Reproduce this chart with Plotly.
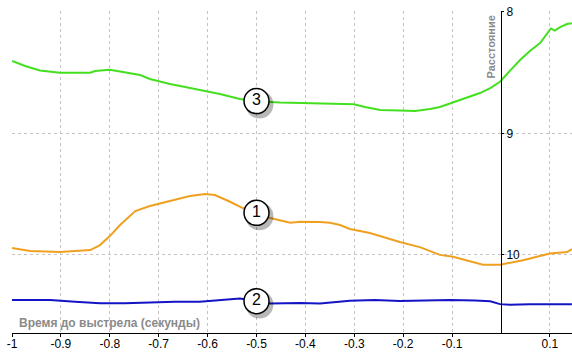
import numpy as np
import plotly.graph_objects as go

# Series 3 (green)
t3 = [-1.0, -0.973, -0.943, -0.902, -0.871, -0.840, -0.830, -0.800, -0.779, -0.759, -0.738, -0.718,
      -0.697, -0.677, -0.646, -0.616, -0.575, -0.534, -0.493, -0.452, -0.411, -0.350, -0.301, -0.278,
      -0.247, -0.207, -0.176, -0.145, -0.125, -0.084, -0.043, -0.022, -0.002, 0.018, 0.039, 0.059,
      0.080, 0.102, 0.110, 0.121, 0.135, 0.145]
d3 = [8.404, 8.445, 8.482, 8.500, 8.500, 8.500, 8.486, 8.476, 8.491, 8.507, 8.519, 8.552,
      8.573, 8.594, 8.618, 8.643, 8.676, 8.717, 8.738, 8.746, 8.750, 8.758, 8.761, 8.783,
      8.808, 8.812, 8.816, 8.800, 8.783, 8.725, 8.668, 8.627, 8.575, 8.486, 8.396, 8.322,
      8.256, 8.136, 8.153, 8.124, 8.099, 8.093]

# Series 1 (orange)
t1 = [-1.0, -0.963, -0.902, -0.840, -0.820, -0.800, -0.779, -0.748, -0.718, -0.677, -0.636, -0.605,
      -0.585, -0.554, -0.528, -0.499, -0.472, -0.431, -0.411, -0.370, -0.350, -0.329, -0.309, -0.268,
      -0.207, -0.166, -0.125, -0.098, -0.057, -0.037, -0.002, 0.045, 0.100, 0.135, 0.145]
d1 = [9.946, 9.970, 9.979, 9.962, 9.921, 9.847, 9.756, 9.641, 9.599, 9.558, 9.517, 9.500,
      9.509, 9.564, 9.616, 9.657, 9.698, 9.737, 9.729, 9.731, 9.737, 9.756, 9.789, 9.822,
      9.896, 9.938, 10.002, 10.017, 10.059, 10.084, 10.084, 10.046, 9.990, 9.979, 9.955]

# Series 2 (blue)
t2 = [-1.0, -0.922, -0.871, -0.820, -0.769, -0.718, -0.667, -0.616, -0.564, -0.534, -0.499, -0.472,
      -0.411, -0.370, -0.309, -0.258, -0.207, -0.155, -0.104, -0.053, -0.022, -0.002, 0.018, 0.059,
      0.100, 0.145]
d2 = [10.374, 10.374, 10.388, 10.400, 10.400, 10.392, 10.388, 10.388, 10.374, 10.361, 10.384, 10.403,
      10.398, 10.403, 10.380, 10.374, 10.382, 10.379, 10.374, 10.379, 10.384, 10.408, 10.414, 10.408,
      10.406, 10.408]

x_ticks = [-1, -0.9, -0.8, -0.7, -0.6, -0.5, -0.4, -0.3, -0.2, -0.1, 0.1]
x_tick_text = ["-1", "-0.9", "-0.8", "-0.7", "-0.6", "-0.5", "-0.4", "-0.3", "-0.2", "-0.1", "0.1"]
y_ticks = [8, 9, 10]
label_x = -0.5
labels = ["1", "2", "3"]

series = [(t1, d1, "#f0a020"), (t2, d2, "#1414c4"), (t3, d3, "#44e020")]

fig = go.Figure()
for t, d, c in series:
    fig.add_trace(go.Scatter(x=t, y=d, mode="lines", line=dict(color=c, width=2), showlegend=False,
                             hoverinfo="skip"))

# numbered circle labels placed on each curve
for (t, d, c), lab in zip(series, labels):
    yv = float(np.interp(label_x, t, d))
    fig.add_trace(go.Scatter(x=[label_x + 0.006], y=[yv + 0.028], mode="markers",
                             marker=dict(size=28, color="rgba(0,0,0,0.28)", line=dict(width=0)),
                             showlegend=False, hoverinfo="skip"))
    fig.add_trace(go.Scatter(x=[label_x], y=[yv], mode="markers+text", text=[lab],
                             textposition="middle center",
                             textfont=dict(family="Liberation Sans, Arial", size=16, color="black"),
                             marker=dict(size=25, color="white", line=dict(color="black", width=1.5)),
                             showlegend=False, hoverinfo="skip"))

xmin, xmax = -1.0, 0.14519
fig.update_layout(
    width=572, height=354,
    margin=dict(l=12, r=0, t=11, b=21),
    paper_bgcolor="white", plot_bgcolor="white",
    xaxis=dict(range=[xmin, xmax], tickvals=x_ticks, ticktext=x_tick_text,
               showgrid=True, gridcolor="#c4c4c4", griddash="3px,3px", gridwidth=1,
               showline=True, linecolor="black", linewidth=1, zeroline=False,
               ticks="outside", ticklen=3, tickcolor="black", ticklabelstandoff=-3,
               tickfont=dict(family="Liberation Sans, Arial", size=12, color="black")),
    yaxis=dict(range=[10.646, 7.9918], tickvals=y_ticks, ticktext=[str(v) for v in y_ticks],
               anchor="free", position=(0 - xmin) / (xmax - xmin), side="right",
               showgrid=True, gridcolor="#c4c4c4", griddash="3px,3px", gridwidth=1,
               showline=True, linecolor="black", linewidth=1, zeroline=False,
               ticks="outside", ticklen=2, tickcolor="black",
               tickfont=dict(family="Liberation Sans, Arial", size=12, color="black")),
    annotations=[
        dict(text="<b>Время до выстрела (секунды)</b>", x=0.009, xref="paper", xanchor="left",
             y=0.0, yref="paper", yanchor="bottom", yshift=1, showarrow=False,
             font=dict(family="Liberation Sans, Arial", size=12, color="#8a8a8a")),
        dict(text="<b>Расстояние</b>", x=0, xref="x", xanchor="right", xshift=-2,
             y=8.0, yref="y", yanchor="top", yshift=-2, textangle=-90, showarrow=False,
             font=dict(family="Liberation Sans, Arial", size=11, color="#8a8a8a")),
    ],
)

fig.write_html("out.html")
